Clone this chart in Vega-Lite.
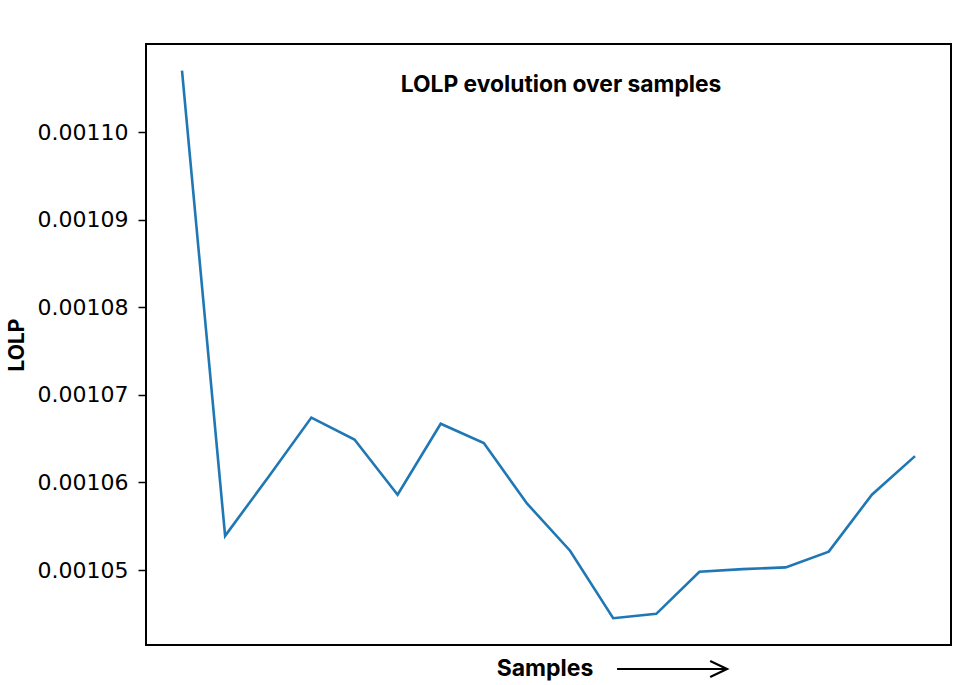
{
  "$schema": "https://vega.github.io/schema/vega-lite/v6.json",
  "autosize": "none",
  "width": 805,
  "height": 601,
  "padding": {"left": 146, "top": 44, "right": 25, "bottom": 40},
  "background": "white",
  "config": {"view": {"stroke": "black", "strokeWidth": 2}},
  "datasets": {
    "lolp": [
      {"sample": 0, "lolp": 0.0011070},
      {"sample": 1, "lolp": 0.0010539},
      {"sample": 2, "lolp": 0.0010606},
      {"sample": 3, "lolp": 0.0010674},
      {"sample": 4, "lolp": 0.0010649},
      {"sample": 5, "lolp": 0.0010586},
      {"sample": 6, "lolp": 0.0010667},
      {"sample": 7, "lolp": 0.0010645},
      {"sample": 8, "lolp": 0.0010576},
      {"sample": 9, "lolp": 0.0010522},
      {"sample": 10, "lolp": 0.0010445},
      {"sample": 11, "lolp": 0.0010450},
      {"sample": 12, "lolp": 0.0010498},
      {"sample": 13, "lolp": 0.0010501},
      {"sample": 14, "lolp": 0.0010503},
      {"sample": 15, "lolp": 0.0010521},
      {"sample": 16, "lolp": 0.0010586},
      {"sample": 17, "lolp": 0.0010630}
    ],
    "arrowhead": [
      {"sample": 12.25, "lolp": 0.00103961},
      {"sample": 12.64, "lolp": 0.0010387},
      {"sample": 12.25, "lolp": 0.00103779}
    ]
  },
  "layer": [
    {
      "data": {"name": "lolp"},
      "mark": {"type": "line", "color": "#1f77b4", "strokeWidth": 2.6},
      "encoding": {
        "x": {
          "field": "sample", "type": "quantitative",
          "scale": {"domain": [-0.835, 17.835], "nice": false, "zero": false},
          "axis": {"title": null, "labels": false, "ticks": false, "domain": false, "grid": false}
        },
        "y": {
          "field": "lolp", "type": "quantitative",
          "scale": {"domain": [0.00104144, 0.00111005], "nice": false, "zero": false},
          "axis": {
            "title": "LOLP",
            "titleFont": "Inter", "titleFontSize": 21, "titleFontWeight": "bold", "titleColor": "black",
            "titlePadding": 10,
            "values": [0.00105, 0.00106, 0.00107, 0.00108, 0.00109, 0.00110],
            "format": ".5f",
            "labelFont": "DejaVu Sans", "labelFontSize": 22, "labelColor": "black", "labelPadding": 10,
            "tickColor": "black", "tickSize": 8, "tickWidth": 1.5,
            "domain": false, "grid": false
          }
        }
      }
    },
    {
      "data": {"values": [{}]},
      "mark": {"type": "text", "text": "LOLP evolution over samples", "font": "Inter", "fontSize": 22.8, "fontWeight": "bold", "color": "black", "align": "center", "baseline": "middle"},
      "encoding": {"x": {"datum": 8.79}, "y": {"datum": 0.0011054}}
    },
    {
      "data": {"values": [{}]},
      "mark": {"type": "text", "text": "Samples", "font": "Inter", "fontSize": 23, "fontWeight": "bold", "color": "black", "align": "center", "baseline": "middle", "clip": false},
      "encoding": {"x": {"datum": 8.42}, "y": {"datum": 0.0010387}}
    },
    {
      "data": {"values": [{}]},
      "mark": {"type": "rule", "color": "black", "strokeWidth": 2, "clip": false},
      "encoding": {"x": {"datum": 10.09}, "x2": {"datum": 12.62}, "y": {"datum": 0.0010387}}
    },
    {
      "data": {"name": "arrowhead"},
      "mark": {"type": "line", "color": "black", "strokeWidth": 2.2, "clip": false},
      "encoding": {
        "x": {"field": "sample", "type": "quantitative"},
        "y": {"field": "lolp", "type": "quantitative"},
        "order": {"field": "lolp", "type": "quantitative"}
      }
    }
  ]
}
